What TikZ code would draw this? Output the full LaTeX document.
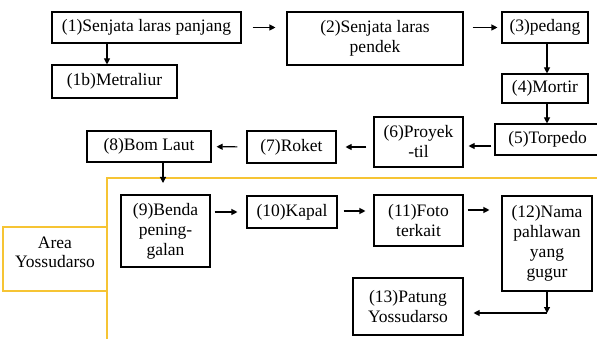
\documentclass[tikz,border=0pt]{standalone}
\usepackage{fontspec}
\setmainfont{Liberation Serif}
\usepackage{tikz}
\usetikzlibrary{arrows.meta, positioning, calc}

\definecolor{kuning}{RGB}{246,196,52}

\begin{document}
\begin{tikzpicture}[
    x=1pt, y=-1pt,
    % Styles
    kotak/.style={draw, line width=1.1pt, font=\fontsize{17.5}{20}\selectfont, align=center, inner sep=0pt},
    panah/.style={-{Triangle[length=6pt, width=6pt]}, line width=1.1pt},
    garis area/.style={draw=kuning, line width=1.3pt},
    label area/.style={font=\fontsize{17.5}{19.5}\selectfont, align=center, inner sep=0pt}
]
    \useasboundingbox (0,0) rectangle (597,339);

    % Yellow area frame
    \draw[garis area] (597,178) -- (107,178) -- (107,339);
    \draw[garis area] (107,227) -| (3,291) -- (107,291);
    \node[label area] (area) at (55,252.5) {Area\\Yossudarso};

    % First row
    \node[kotak, minimum width=189, minimum height=31] (n1) at (146.5,27.5) {(1)Senjata laras panjang};
    \node[kotak, minimum width=176, minimum height=53] (n2) at (375,38.5) {(2)Senjata laras\\pendek};
    \node[kotak, minimum width=86, minimum height=31] (n3) at (545,27.5) {(3)pedang};
    \node[kotak, minimum width=125, minimum height=33] (n1b) at (114.5,81.5) {(1b)Metraliur};
    \node[kotak, minimum width=86, minimum height=29] (n4) at (545,88.5) {(4)Mortir};

    % Second row (right to left)
    \node[kotak, minimum width=105, minimum height=31] (n5) at (547.5,139.5) {(5)Torpedo};
    \node[kotak, minimum width=89, minimum height=50] (n6) at (418.5,142) {(6)Proyek\\-til};
    \node[kotak, minimum width=89, minimum height=32] (n7) at (291.5,147) {(7)Roket};
    \node[kotak, minimum width=124, minimum height=31] (n8) at (149,146.5) {(8)Bom Laut};

    % Area Yossudarso
    \node[kotak, minimum width=89, minimum height=72] (n9) at (165.5,231) {(9)Benda\\pening-\\galan};
    \node[kotak, minimum width=90, minimum height=32] (n10) at (292,212) {(10)Kapal};
    \node[kotak, minimum width=89, minimum height=51] (n11) at (418.5,220.5) {(11)Foto\\terkait};
    \node[kotak, minimum width=90, minimum height=95] (n12) at (547,243.5) {(12)Nama\\pahlawan\\yang\\gugur};
    \node[kotak, minimum width=110, minimum height=57] (n13) at (408,306.5) {(13)Patung\\Yossudarso};

    \coordinate (masuk) at (163,183);
    \coordinate (belok) at (547,313);

    % Arrows
    \draw[panah, shorten <=11pt, shorten >=11pt] (n1) -- (n2.west |- n1);
    \draw[panah, shorten <=9pt, shorten >=4pt] (n2.east |- n3) -- (n3);
    \draw[panah] ([xshift=-39.5pt]n1.south) -- ([xshift=-39.5pt]n1.south |- n1b.north);
    \draw[panah] ([xshift=2pt]n3.south) -- ([xshift=2pt]n4.north);
    \draw[panah] ([xshift=2pt]n4.south) -- ([xshift=2pt]n4.south |- n5.north);
    \draw[panah, shorten <=3pt, shorten >=5pt] (n5.west |- 0,146) -- (n6.east |- 0,146);
    \draw[panah, shorten <=7pt, shorten >=9pt] (n6.west |- n7) -- (n7);
    \draw[panah, shorten <=9pt, shorten >=5pt] (n7) -- (n8);
    \draw[panah] ([xshift=14pt]n8.south) -- (masuk);
    \draw[panah, shorten <=4pt, shorten >=9pt] (n9.east |- n10) -- (n10);
    \draw[panah, shorten <=6pt, shorten >=8pt] (n10.east |- 0,211) -- (n11.west |- 0,211);
    \draw[panah, shorten <=4pt, shorten >=12pt] (n11.east |- 0,210) -- (n12.west |- 0,210);
    \draw[panah] (n12.south) -- (belok);
    \draw[panah, shorten >=10pt] (belok) -- (n13.east |- belok);
\end{tikzpicture}
\end{document}
